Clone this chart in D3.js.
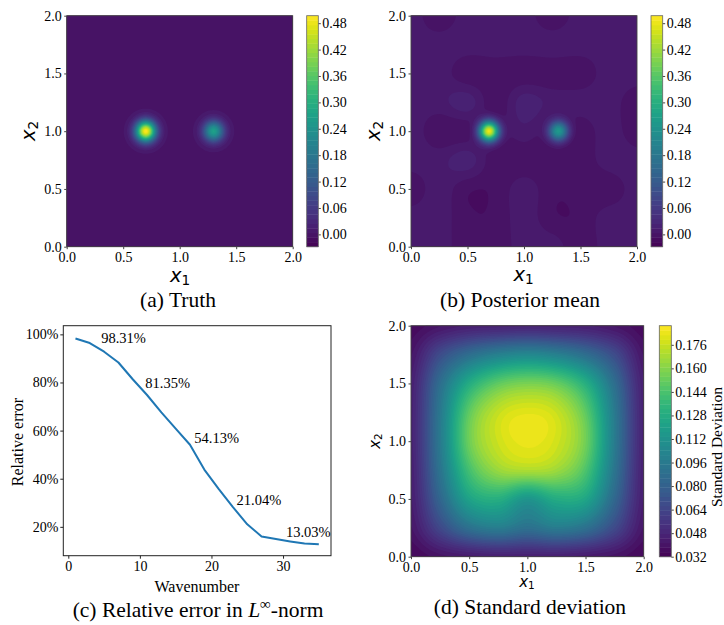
<!DOCTYPE html>
<html>
<head>
<meta charset="utf-8">
<script src="https://cdn.jsdelivr.net/npm/d3@7"></script>
<style>
  body { margin: 0; background: #fff; }
  svg text { font-family: "Liberation Serif", "Times New Roman", serif; fill: #000; }
  .math { font-family: "DejaVu Sans", sans-serif; }
</style>
</head>
<body>
<svg id="fig" width="724" height="625"></svg>
<script>
// ---------- data ----------
const wavenumbers = [1, 3, 5, 7, 9, 11, 13, 15, 17, 19, 21, 23, 25, 27, 29, 31, 33, 35];
const relError = [98.31, 96.4, 92.8, 88.3, 81.35, 74.8, 67.6, 60.8, 54.13, 43.8, 35.8, 28.2, 21.04, 16.0, 14.9, 13.9, 13.03, 12.75];
const errLabelText = ["98.31%", "81.35%", "54.13%", "21.04%", "13.03%"];
const errLabelWn = [4.6, 10.75, 17.6, 23.5, 30.4];
const errLabelPct = [96.4, 77.5, 54.7, 29.0, 15.8];
const errXTicks = [0, 10, 20, 30];
const errYTicks = [20, 40, 60, 80, 100];

const coordTicks = [0, 0.5, 1, 1.5, 2];
const fieldTicks = [0, 0.06, 0.12, 0.18, 0.24, 0.30, 0.36, 0.42, 0.48];
const stdTicks = [0.032, 0.048, 0.064, 0.080, 0.096, 0.112, 0.128, 0.144, 0.160, 0.176];
const fieldRange = [-0.028, 0.497];
const stdRange = [0.032, 0.189];

// gaussian sources: centre x, centre y, amplitude, width
const truthCx = [0.70, 1.30], truthCy = [1.0, 1.0], truthAmp = [0.50, 0.27], truthSigma = [0.062, 0.062];
const meanCx = [0.69, 1.305], meanCy = [1.0, 1.0], meanAmp = [0.49, 0.26], meanSigma = [0.060, 0.060];

// posterior mean background, 9x9 samples, rows x2 = 2.0 ... 0.0, cols x1 = 0.0 ... 2.0
const meanBackground = [
  [0.010, -0.005, 0.010, 0.010, 0.010, -0.005, 0.010, 0.010, 0.010],
  [0.010, 0.010, 0.010, 0.010, 0.010, 0.010, 0.010, 0.010, 0.010],
  [0.010, 0.010, -0.005, -0.005, -0.005, -0.005, -0.005, 0.010, 0.010],
  [0.010, 0.010, 0.020, -0.005, 0.020, 0.010, 0.010, 0.010, -0.005],
  [0.010, -0.005, -0.005, -0.005, 0.010, -0.005, -0.005, 0.010, -0.005],
  [0.010, 0.010, 0.020, -0.005, -0.005, -0.005, -0.005, 0.010, 0.010],
  [-0.005, 0.010, -0.005, -0.005, 0.010, -0.005, -0.005, -0.005, 0.010],
  [0.010, 0.010, -0.005, -0.005, 0.010, -0.005, -0.005, 0.010, 0.010],
  [0.010, 0.010, -0.005, -0.005, 0.010, 0.010, -0.005, 0.010, 0.010]
];

// standard deviation, 9x9 samples, same layout
const stdGrid = [
  [0.036, 0.041, 0.045, 0.046, 0.047, 0.046, 0.045, 0.041, 0.036],
  [0.041, 0.068, 0.088, 0.100, 0.105, 0.100, 0.088, 0.068, 0.041],
  [0.045, 0.088, 0.128, 0.150, 0.157, 0.152, 0.130, 0.088, 0.045],
  [0.046, 0.095, 0.150, 0.175, 0.182, 0.176, 0.150, 0.096, 0.046],
  [0.046, 0.096, 0.154, 0.177, 0.184, 0.178, 0.155, 0.097, 0.046],
  [0.045, 0.092, 0.142, 0.165, 0.170, 0.166, 0.145, 0.093, 0.045],
  [0.044, 0.083, 0.122, 0.130, 0.114, 0.128, 0.124, 0.084, 0.044],
  [0.041, 0.066, 0.090, 0.098, 0.090, 0.097, 0.090, 0.067, 0.041],
  [0.035, 0.040, 0.043, 0.045, 0.045, 0.045, 0.043, 0.040, 0.035]
];

// ---------- helpers ----------
const svg = d3.select("#fig");
const SERIF = "'Liberation Serif', 'Times New Roman', serif";

function catmull(p0, p1, p2, p3, t) {
  return 0.5 * (2 * p1 + (-p0 + p2) * t + (2 * p0 - 5 * p1 + 4 * p2 - p3) * t * t + (-p0 + 3 * p1 - 3 * p2 + p3) * t * t * t);
}

function sampleGrid(grid, x, y) {
  const n = grid.length - 1;
  const gx = x / 2 * n, gy = (2 - y) / 2 * n;
  const ix = Math.min(Math.floor(gx), n - 1), iy = Math.min(Math.floor(gy), n - 1);
  const tx = gx - ix, ty = gy - iy;
  const at = (r, c) => grid[Math.max(0, Math.min(n, r))][Math.max(0, Math.min(n, c))];
  const rows = [-1, 0, 1, 2].map(k => catmull(at(iy + k, ix - 1), at(iy + k, ix), at(iy + k, ix + 1), at(iy + k, ix + 2), tx));
  return catmull(rows[0], rows[1], rows[2], rows[3], ty);
}

function bumps(cx, cy, amp, sigma, x, y) {
  let v = 0;
  for (let k = 0; k < cx.length; k++) {
    const r2 = (x - cx[k]) ** 2 + (y - cy[k]) ** 2;
    v += amp[k] * Math.exp(-r2 / (2 * sigma[k] * sigma[k]));
  }
  return v;
}

function mathLabel(g, x, y, sub, size, rotate) {
  const t = g.append("text")
    .attr("class", "math")
    .attr("text-anchor", "middle")
    .attr("transform", rotate ? `translate(${x},${y}) rotate(-90)` : `translate(${x},${y})`)
    .style("font-size", size + "px");
  t.append("tspan").style("font-style", "italic").text("x");
  t.append("tspan").attr("dy", size * 0.16).style("font-size", (size * 0.7) + "px").text(sub);
}

function styleAxis(a, col) {
  a.attr("font-family", null);
  a.select(".domain").remove();
  a.selectAll("line").attr("stroke", col);
  a.selectAll("text").style("font-size", "14px").style("font-family", SERIF);
}

function heatPanel(box, cb, valueAt, range, nBands, cbTicks, cbFmt, labels) {
  const g = svg.append("g");
  const N = 180;
  const values = new Float64Array(N * N);
  for (let j = 0; j < N; j++) {
    for (let i = 0; i < N; i++) {
      values[j * N + i] = valueAt((i + 0.5) / N * 2, 2 - (j + 0.5) / N * 2);
    }
  }
  const levels = d3.range(nBands + 1).map(k => range[0] + k * (range[1] - range[0]) / nBands);
  const color = d3.scaleSequential(d3.interpolateViridis).domain(range);
  const bandColor = i => color((levels[i] + levels[i + 1]) / 2);

  const contours = d3.contours().size([N, N]).thresholds(levels.slice(1, -1))(values);
  const path = d3.geoPath(d3.geoTransform({
    point(px, py) { this.stream.point(box.x + px / N * box.w, box.y + py / N * box.h); }
  }));
  g.append("rect").attr("x", box.x).attr("y", box.y).attr("width", box.w).attr("height", box.h)
    .attr("fill", bandColor(0));
  g.selectAll("path.band").data(contours).join("path")
    .attr("class", "band")
    .attr("d", path)
    .attr("fill", (d, i) => bandColor(i + 1));

  const x = d3.scaleLinear().domain([0, 2]).range([box.x, box.x + box.w]);
  const y = d3.scaleLinear().domain([0, 2]).range([box.y + box.h, box.y]);
  const ax = g.append("g").attr("transform", `translate(0,${box.y + box.h})`)
    .call(d3.axisBottom(x).tickValues(coordTicks).tickFormat(d3.format(".1f")).tickSize(2.5).tickPadding(2.5));
  const ay = g.append("g").attr("transform", `translate(${box.x},0)`)
    .call(d3.axisLeft(y).tickValues(coordTicks).tickFormat(d3.format(".1f")).tickSize(2.5).tickPadding(2.5));
  styleAxis(ax, "#444");
  styleAxis(ay, "#444");
  g.append("rect").attr("x", box.x).attr("y", box.y).attr("width", box.w).attr("height", box.h)
    .attr("fill", "none").attr("stroke", "#444").attr("stroke-width", 0.9);

  // colorbar
  const cy = d3.scaleLinear().domain(range).range([box.y + box.h, box.y]);
  g.selectAll("rect.cb").data(d3.range(nBands)).join("rect")
    .attr("class", "cb")
    .attr("x", cb.x).attr("width", cb.w)
    .attr("y", i => cy(levels[i + 1]))
    .attr("height", i => cy(levels[i]) - cy(levels[i + 1]) + 0.4)
    .attr("fill", i => bandColor(i));
  const ac = g.append("g").attr("transform", `translate(${cb.x + cb.w},0)`)
    .call(d3.axisRight(cy).tickValues(cbTicks).tickFormat(d3.format(cbFmt)).tickSize(2.5).tickPadding(1.5));
  styleAxis(ac, "#444");
  g.append("rect").attr("x", cb.x).attr("y", box.y).attr("width", cb.w).attr("height", box.h)
    .attr("fill", "none").attr("stroke", "#666").attr("stroke-width", 0.8);

  mathLabel(g, labels.x1[0], labels.x1[1], "1", labels.size, false);
  mathLabel(g, labels.x2[0], labels.x2[1], "2", labels.size, true);
  return g;
}

function caption(x, y, text) {
  svg.append("text").attr("x", x).attr("y", y).attr("text-anchor", "middle")
    .style("font-size", "21.5px").text(text);
}

// ---------- (a) truth ----------
heatPanel({ x: 66.7, y: 15.7, w: 226, h: 231 }, { x: 306.7, w: 11.6 },
  (x, y) => bumps(truthCx, truthCy, truthAmp, truthSigma, x, y),
  fieldRange, 50, fieldTicks, ".2f",
  { x1: [180, 281.5], x2: [35, 131], size: 19.5 });
caption(178, 307, "(a) Truth");

// ---------- (b) posterior mean ----------
heatPanel({ x: 411, y: 15.7, w: 226, h: 231 }, { x: 651, w: 11.7 },
  (x, y) => sampleGrid(meanBackground, x, y) + bumps(meanCx, meanCy, meanAmp, meanSigma, x, y),
  fieldRange, 50, fieldTicks, ".2f",
  { x1: [523.5, 281], x2: [380, 131], size: 19.5 });
caption(520, 307, "(b) Posterior mean");

// ---------- (c) relative error ----------
(function () {
  const g = svg.append("g");
  const box = { x: 63.3, y: 325.7, w: 267.7, h: 230 };
  const x = d3.scaleLinear().domain([-0.7, 36.7]).range([box.x, box.x + box.w]);
  const y = d3.scaleLinear().domain([8, 103.6]).range([box.y + box.h, box.y]);
  const ax = g.append("g").attr("transform", `translate(0,${box.y + box.h})`)
    .call(d3.axisBottom(x).tickValues(errXTicks).tickSize(3).tickPadding(2.5));
  const ay = g.append("g").attr("transform", `translate(${box.x},0)`)
    .call(d3.axisLeft(y).tickValues(errYTicks).tickFormat(d => d + "%").tickSize(3).tickPadding(2));
  styleAxis(ax, "#222");
  styleAxis(ay, "#222");
  g.append("rect").attr("x", box.x).attr("y", box.y).attr("width", box.w).attr("height", box.h)
    .attr("fill", "none").attr("stroke", "#222").attr("stroke-width", 1);

  const line = d3.line().x((d, i) => x(wavenumbers[i])).y(d => y(d));
  g.append("path").datum(relError)
    .attr("d", line)
    .attr("fill", "none")
    .attr("stroke", "#1f77b4")
    .attr("stroke-width", 2)
    .attr("stroke-linejoin", "round");

  g.selectAll("text.ann").data(errLabelText).join("text")
    .attr("class", "ann")
    .attr("x", (d, i) => x(errLabelWn[i]))
    .attr("y", (d, i) => y(errLabelPct[i]))
    .style("font-size", "14.5px")
    .text(d => d);

  g.append("text").attr("x", 197).attr("y", 591.7).attr("text-anchor", "middle")
    .style("font-size", "16px").text("Wavenumber");
  g.append("text").attr("transform", "translate(22.5,442) rotate(-90)").attr("text-anchor", "middle")
    .style("font-size", "16px").text("Relative error");

  const c = svg.append("text").attr("x", 198).attr("y", 617).attr("text-anchor", "middle")
    .style("font-size", "21.5px");
  c.append("tspan").text("(c) Relative error in ");
  c.append("tspan").style("font-style", "italic").text("L");
  c.append("tspan").attr("dy", -8).style("font-size", "15px").text("\u221E");
  c.append("tspan").attr("dy", 8).text("-norm");
})();

// ---------- (d) standard deviation ----------
heatPanel({ x: 411, y: 325.7, w: 232.7, h: 231 }, { x: 659.3, w: 12 },
  (x, y) => sampleGrid(stdGrid, x, y),
  stdRange, 50, stdTicks, ".3f",
  { x1: [527, 587], x2: [380, 441], size: 15 });
svg.append("text").attr("transform", "translate(721.5,447) rotate(-90)").attr("text-anchor", "middle")
  .style("font-size", "15.5px").text("Standard Deviation");
caption(530, 614, "(d) Standard deviation");
</script>
</body>
</html>
